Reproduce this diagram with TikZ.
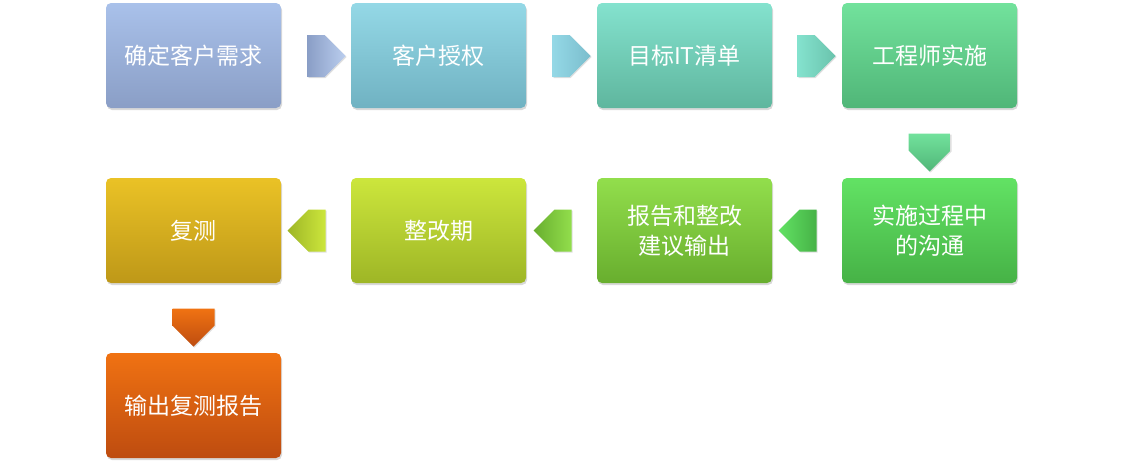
\documentclass[tikz,border=0pt]{standalone}
\usepackage{fontspec}
\newfontfamily\cjk{Noto Sans CJK SC}
\usetikzlibrary{shapes.arrows,shadows}
\definecolor{c1t}{HTML}{A9C1EA}\definecolor{c1b}{HTML}{8A9EC6}
\definecolor{c2t}{HTML}{94D8E6}\definecolor{c2b}{HTML}{70B2C2}
\definecolor{c3t}{HTML}{84E2CE}\definecolor{c3b}{HTML}{5FB69E}
\definecolor{c4t}{HTML}{72E29C}\definecolor{c4b}{HTML}{50B678}
\definecolor{c5t}{HTML}{62E264}\definecolor{c5b}{HTML}{46B246}
\definecolor{c6t}{HTML}{92DE4C}\definecolor{c6b}{HTML}{68AE2E}
\definecolor{c7t}{HTML}{CCE63C}\definecolor{c7b}{HTML}{9EB626}
\definecolor{c8t}{HTML}{EAC226}\definecolor{c8b}{HTML}{BE9818}
\definecolor{c9t}{HTML}{F07212}\definecolor{c9b}{HTML}{BE4C10}
\tikzset{
 box/.style={rounded corners=5pt,minimum width=175pt,minimum height=105pt,text width=160pt,align=center,
  text=white,font=\cjk\fontsize{23}{30}\selectfont,drop shadow={shadow xshift=1pt,shadow yshift=-2pt,opacity=0.3}},
 sh/.style 2 args={top color=#1,bottom color=#2},
 arr/.style={single arrow,minimum height=38pt,minimum width=42pt,single arrow head extend=0pt,inner sep=0pt,
  single arrow tip angle=90, drop shadow={shadow xshift=1pt,shadow yshift=-1pt,opacity=0.25}},
}
\begin{document}
\begin{tikzpicture}[x=1pt,y=-1pt]
\useasboundingbox (0,0) rectangle (1123,469);
\node[box,sh={c1t}{c1b}] (b1) at (193.5,55.5) {确定客户需求};
\node[box,sh={c2t}{c2b}] (b2) at (438.5,55.5) {客户授权};
\node[box,sh={c3t}{c3b}] (b3) at (684.5,55.5) {目标IT清单};
\node[box,sh={c4t}{c4b}] (b4) at (929.5,55.5) {工程师实施};
\node[box,sh={c5t}{c5b}] (b5) at (929.5,230.5) {实施过程中\\的沟通};
\node[box,sh={c6t}{c6b}] (b6) at (684.5,230.5) {报告和整改\\建议输出};
\node[box,sh={c7t}{c7b}] (b7) at (438.5,230.5) {整改期};
\node[box,sh={c8t}{c8b}] (b8) at (193.5,230.5) {复测};
\node[box,sh={c9t}{c9b}] (b9) at (193.5,405.5) {输出复测报告};
\path[left color=c1b!90!white,right color=c1t] node[arr,left color=c1b,right color=c1t!80!white] (a1) at (316,56) {};
\node[arr,left color=c2t,right color=c2b!70!c2t] (a2) at (561,56) {};
\node[arr,left color=c3t,right color=c3b!70!c3t] (a3) at (806,56) {};
\node[arr,shape border rotate=270,top color=c4t,bottom color=c4b] (a4) at (929.5,142) {};
\node[arr,shape border rotate=180,left color=c5t,right color=c5b] (a5) at (808,230.5) {};
\node[arr,shape border rotate=180,left color=c6b,right color=c6t] (a6) at (563,230.5) {};
\node[arr,shape border rotate=180,left color=c7b,right color=c7t] (a7) at (317,230.5) {};
\node[arr,shape border rotate=270,top color=c9t,bottom color=c9b] (a8) at (193.5,317) {};
\end{tikzpicture}
\end{document}
